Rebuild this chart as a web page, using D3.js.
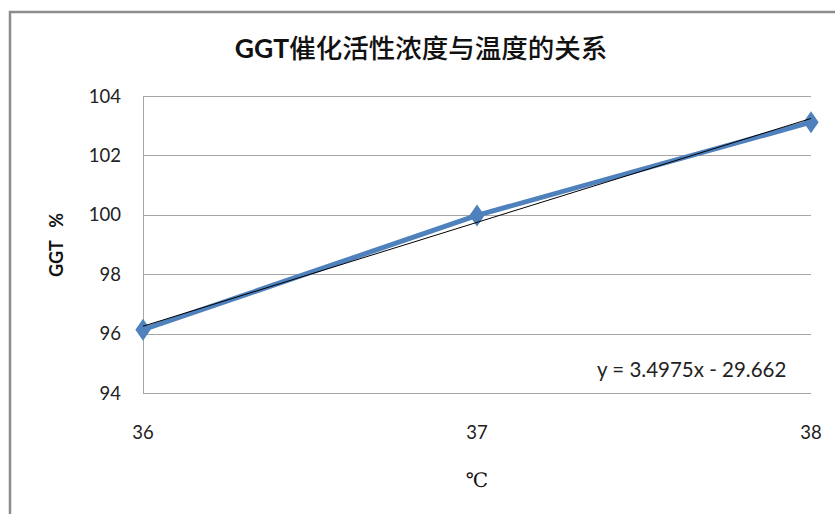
<!DOCTYPE html>
<html>
<head>
<meta charset="utf-8">
<script src="https://cdn.jsdelivr.net/npm/d3@7"></script>
<style>
  body { margin: 0; background: #fff; }
  text { font-family: Lato, "Noto Sans CJK SC", sans-serif; }
</style>
</head>
<body>
<svg id="chart" width="835" height="514"></svg>
<script>
// data
var temps = [36, 37, 38];
var ggt = [96.13, 99.98, 103.12];
var xTicks = [36, 37, 38];
var yTicks = [94, 96, 98, 100, 102, 104];
var slope = 3.4975, intercept = -29.662;

var svg = d3.select( "#chart" );

// outer chart frame (runs off right/bottom edge)
svg.append( "rect" )
  .attr( "x", 10 ).attr( "y", 12 )
  .attr( "width", 900 ).attr( "height", 600 )
  .attr( "fill", "#fff" )
  .attr( "stroke", "#8c8c8c" )
  .attr( "stroke-width", 2.5 );

var plotL = 143, plotR = 811, plotT = 96, plotB = 393;

var x = d3.scaleLinear().domain( [36, 38] ).range( [plotL, plotR] );
var y = d3.scaleLinear().domain( [94, 104] ).range( [plotB, plotT] );

// gridlines
svg.append( "g" ).selectAll( "line" ).data( yTicks ).enter().append( "line" )
  .attr( "x1", plotL ).attr( "x2", plotR )
  .attr( "y1", function(d) { return Math.round( y(d) ) + 0.5; } )
  .attr( "y2", function(d) { return Math.round( y(d) ) + 0.5; } )
  .attr( "stroke", "#a6a6a6" ).attr( "stroke-width", 1 );

// left axis line
svg.append( "line" )
  .attr( "x1", plotL + 0.5 ).attr( "x2", plotL + 0.5 )
  .attr( "y1", plotT ).attr( "y2", plotB )
  .attr( "stroke", "#a6a6a6" ).attr( "stroke-width", 1 );

// y tick labels
svg.append( "g" ).selectAll( "text" ).data( yTicks ).enter().append( "text" )
  .attr( "x", 121 )
  .attr( "y", function(d) { return y(d); } )
  .attr( "dy", "0.36em" )
  .style( "text-anchor", "end" )
  .style( "font-size", "18.5px" )
  .attr( "fill", "#222" )
  .text( function(d) { return d; } );

// x tick labels
svg.append( "g" ).selectAll( "text" ).data( xTicks ).enter().append( "text" )
  .attr( "x", function(d) { return x(d); } )
  .attr( "y", 432 )
  .attr( "dy", "0.36em" )
  .style( "text-anchor", "middle" )
  .style( "font-size", "18.5px" )
  .attr( "fill", "#222" )
  .text( function(d) { return d; } );

// series line
var pts = temps.map( function(t, i) { return [t, ggt[i]]; } );
var line = d3.line()
  .x( function(d) { return x(d[0]); } )
  .y( function(d) { return y(d[1]); } );

svg.append( "path" )
  .datum( pts )
  .attr( "d", line )
  .attr( "fill", "none" )
  .attr( "stroke", "#4f81bd" )
  .attr( "stroke-width", 5 )
  .attr( "stroke-linejoin", "round" );

svg.append( "g" ).selectAll( "path" ).data( pts ).enter().append( "path" )
  .attr( "d", d3.symbol().type( d3.symbolDiamond ).size( 140 ) )
  .attr( "transform", function(d) { return "translate(" + x(d[0]) + "," + y(d[1]) + ") scale(1.2,1)"; } )
  .attr( "fill", "#4f81bd" );

// linear trendline
svg.append( "path" )
  .datum( [36, 38].map( function(t) { return [t, slope * t + intercept]; } ) )
  .attr( "d", line )
  .attr( "fill", "none" )
  .attr( "stroke", "#000" )
  .attr( "stroke-width", 1 );

svg.append( "text" )
  .attr( "x", 597 ).attr( "y", 370 )
  .attr( "dy", "0.36em" )
  .style( "font-size", "20.5px" )
  .attr( "fill", "#222" )
  .text( "y = 3.4975x - 29.662" );

// title
var title = svg.append( "text" )
  .attr( "x", 421 ).attr( "y", 48 )
  .attr( "dy", "0.36em" )
  .style( "text-anchor", "middle" )
  .style( "font-size", "26.5px" )
  .attr( "fill", "#111" );
title.append( "tspan" ).style( "font-weight", "bold" ).text( "GGT" );
title.append( "tspan" ).style( "font-weight", 500 ).text( "催化活性浓度与温度的关系" );

// axis titles
svg.append( "text" )
  .attr( "transform", "translate(57,245) rotate(-90)" )
  .attr( "dy", "0.36em" )
  .style( "text-anchor", "middle" )
  .style( "font-size", "18px" )
  .style( "font-weight", "bold" )
  .attr( "fill", "#111" )
  .text( "GGT\u00a0\u00a0\u00a0%" );

svg.append( "text" )
  .attr( "x", 477 ).attr( "y", 480 )
  .attr( "dy", "0.36em" )
  .style( "text-anchor", "middle" )
  .style( "font-size", "20px" )
  .style( "font-family", "'DejaVu Serif', serif" )
  .attr( "fill", "#111" )
  .text( "℃" );
</script>
</body>
</html>
